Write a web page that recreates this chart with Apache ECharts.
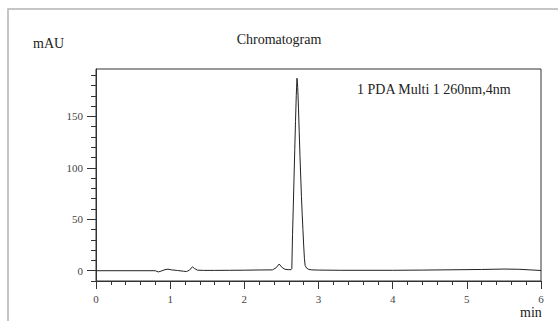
<!DOCTYPE html>
<html>
<head>
<meta charset="utf-8">
<script src="https://cdn.jsdelivr.net/npm/echarts@6/dist/echarts.min.js"></script>
<style>
  html, body { margin: 0; padding: 0; background: #fff; }
  #chart { width: 558px; height: 321px; }
</style>
</head>
<body>
<div id="chart"></div>
<script>
// retention time (min) and absorbance (mAU)
var times = [0, 0.5, 0.8, 0.84, 0.88, 0.93, 0.97, 1.02, 1.1, 1.18, 1.22, 1.26, 1.3, 1.33, 1.37, 1.45,
  1.6, 1.8, 2.0, 2.2, 2.38, 2.43, 2.47, 2.51, 2.55, 2.6, 2.63, 2.64,
  2.65, 2.66, 2.67, 2.68, 2.69, 2.7, 2.71, 2.72, 2.73, 2.74, 2.75, 2.76, 2.77, 2.78, 2.79, 2.8,
  2.81, 2.82, 2.84, 2.87, 2.91, 3.0, 3.3, 3.6, 4.0, 4.4, 4.8, 5.2, 5.5, 5.7, 5.85, 6.0];
var absorb = [0, 0, 0, -1.2, -0.3, 1.0, 1.5, 0.8, 0.2, -0.5, -0.8, 0.5, 3.8, 2, 0.5, 0.3,
  0.3, 0.4, 0.5, 0.7, 0.8, 3, 6.5, 3, 1.3, 1.0, 1.0, 2,
  35, 62, 90, 118, 145, 170, 187, 178, 158, 135, 112, 92, 72, 55, 40, 25,
  12, 5, 2.5, 1.2, 0.8, 0.6, 0.4, 0.4, 0.4, 0.6, 0.9, 1.2, 1.6, 1.4, 0.8, 0.2];

var yMajor = [0, 50, 100, 150];
var yMinor = [-10, 10, 20, 30, 40, 60, 70, 80, 90, 110, 120, 130, 140, 160, 170, 180, 190];

var font = 'Liberation Serif';
var ink = '#333';

var trace = times.map(function(t, i) { return [t, absorb[i]]; });

var chart = echarts.init(document.getElementById('chart'), null, { renderer: 'svg' });
chart.setOption({
  animation: false,
  textStyle: { fontFamily: font },
  title: {
    text: 'Chromatogram',
    left: 'center',
    top: 27,
    textStyle: { fontFamily: font, fontSize: 14, fontWeight: 'normal', color: '#222' }
  },
  grid: { left: 96, right: 17, top: 69, bottom: 40, show: true, borderColor: ink, borderWidth: 1 },
  xAxis: {
    type: 'value',
    min: 0, max: 6, interval: 1,
    axisLine: { onZero: false, lineStyle: { color: ink } },
    axisTick: { length: 8, lineStyle: { color: ink } },
    minorTick: { show: true, splitNumber: 5, length: 4, lineStyle: { color: ink } },
    axisLabel: { color: '#444', fontSize: 11, margin: 12, fontFamily: font },
    splitLine: { show: false }
  },
  yAxis: [{
    type: 'value',
    min: -10, max: 196,
    axisLine: { show: true, lineStyle: { color: ink } },
    axisTick: { show: true, length: 9, customValues: yMajor, lineStyle: { color: ink } },
    axisLabel: { color: '#444', fontSize: 11, margin: 13, fontFamily: font, customValues: yMajor },
    splitLine: { show: false }
  }, {
    type: 'value',
    position: 'left',
    min: -10, max: 196,
    axisLine: { show: false },
    axisTick: { show: true, length: 5, customValues: yMinor, lineStyle: { color: ink } },
    axisLabel: { show: false },
    splitLine: { show: false }
  }],
  graphic: [
    { type: 'rect', shape: { x: 8, y: 9, width: 600, height: 400 },
      style: { fill: 'none', stroke: '#b4b4b4', lineWidth: 1.5 }, silent: true },
    { type: 'text', left: 33, top: 36,
      style: { text: 'mAU', font: '14px "Liberation Serif"', fill: '#222' } },
    { type: 'text', left: 520, top: 305,
      style: { text: 'min', font: '14px "Liberation Serif"', fill: '#222' } },
    { type: 'text', left: 357, top: 82,
      style: { text: '1 PDA Multi 1 260nm,4nm', font: '14px "Liberation Serif"', fill: '#222' } }
  ],
  series: [{
    type: 'line',
    data: trace,
    showSymbol: false,
    lineStyle: { color: '#222', width: 1 },
    clip: true
  }]
});
window.addEventListener('resize', function() { chart.resize(); });
</script>
</body>
</html>
